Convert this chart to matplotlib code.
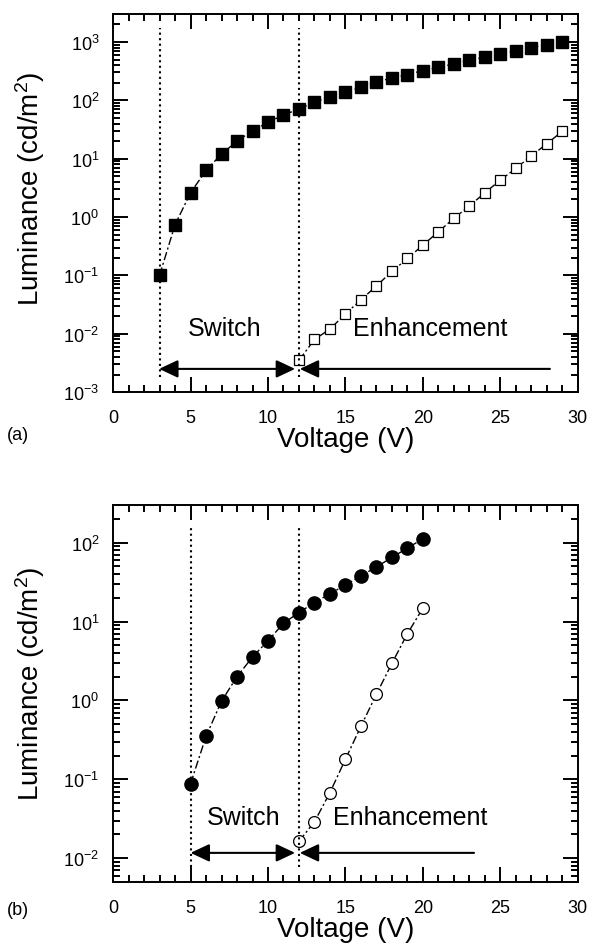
import matplotlib
matplotlib.use("Agg")
import matplotlib.pyplot as plt
from matplotlib.ticker import MultipleLocator, LogLocator, NullFormatter

plt.rcParams["font.family"] = ["Liberation Sans", "DejaVu Sans"]
plt.rcParams["mathtext.fontset"] = "custom"
plt.rcParams["mathtext.rm"] = "Liberation Sans"
plt.rcParams["mathtext.it"] = "Liberation Sans"
plt.rcParams["mathtext.default"] = "regular"

# panel (a): squares
volt_a_on = [3, 4, 5, 6, 7, 8, 9, 10, 11, 12, 13, 14, 15, 16, 17, 18, 19, 20,
             21, 22, 23, 24, 25, 26, 27, 28, 29]
lum_a_on = [0.1, 0.74, 2.6, 6.3, 12, 20, 30, 42, 56, 71, 93, 115, 141, 166,
            204, 242, 275, 324, 370, 420, 490, 545, 620, 710, 800, 900, 1000]
volt_a_off = [12, 13, 14, 15, 16, 17, 18, 19, 20, 21, 22, 23, 24, 25, 26, 27,
              28, 29]
lum_a_off = [0.0035, 0.008, 0.012, 0.022, 0.038, 0.066, 0.117, 0.195, 0.33,
             0.56, 0.95, 1.55, 2.6, 4.3, 6.8, 11.2, 18, 29.5]

# panel (b): circles
volt_b_on = [5, 6, 7, 8, 9, 10, 11, 12, 13, 14, 15, 16, 17, 18, 19, 20]
lum_b_on = [0.088, 0.35, 0.98, 2.0, 3.55, 5.7, 9.5, 13, 17.4, 22.5, 29, 38,
            49, 65, 85, 112]
volt_b_off = [12, 13, 14, 15, 16, 17, 18, 19, 20]
lum_b_off = [0.0164, 0.029, 0.068, 0.18, 0.47, 1.2, 2.95, 7.0, 14.8]

DASH = (0, (6, 2, 1.5, 2))


def style_axis(ax, ylo, yhi):
    ax.set_yscale("log")
    ax.set_xlim(0, 30)
    ax.set_ylim(ylo, yhi)
    ax.xaxis.set_major_locator(MultipleLocator(5))
    ax.xaxis.set_minor_locator(MultipleLocator(1))
    ax.yaxis.set_major_locator(LogLocator(base=10, numticks=20))
    ax.yaxis.set_minor_locator(LogLocator(base=10, subs=range(2, 10), numticks=20))
    ax.yaxis.set_minor_formatter(NullFormatter())
    ax.tick_params(which="both", direction="in", top=True, right=True, width=1.4,
                   labelsize=13)
    ax.tick_params(which="major", length=11)
    ax.tick_params(which="minor", length=5)
    ax.tick_params(axis="x", pad=12)
    ax.tick_params(axis="y", pad=10)
    for s in ax.spines.values():
        s.set_linewidth(1.4)
    ax.set_xlabel("Voltage (V)", fontsize=20, labelpad=0)
    ax.set_ylabel("Luminance (cd/m$^2$)", fontsize=20)


def arrows(ax, x0, x1, x2, y):
    ax.annotate("", xy=(x0, y), xytext=(x1, y),
                arrowprops=dict(arrowstyle="<|-|>,head_length=1.15,head_width=0.54",
                                mutation_scale=10, color="black", lw=1.5,
                                shrinkA=0, shrinkB=0))
    ax.annotate("", xy=(x1 + 0.3, y), xytext=(x2, y),
                arrowprops=dict(arrowstyle="-|>,head_length=1.15,head_width=0.54",
                                mutation_scale=10, color="black", lw=1.5,
                                shrinkA=0, shrinkB=0))


fig = plt.figure(figsize=(5.89, 9.45), dpi=100)

# (a)
ax1 = fig.add_axes([0.192, 0.584, 0.789, 0.400])
style_axis(ax1, 1e-3, 3e3)
ax1.plot(volt_a_on, lum_a_on, color="black", lw=1, linestyle=DASH, marker="s",
         markersize=8, markerfacecolor="black", markeredgecolor="black")
ax1.plot(volt_a_off, lum_a_off, color="black", lw=1, linestyle=DASH, marker="s",
         markersize=7.5, markerfacecolor="white", markeredgecolor="black",
         markeredgewidth=0.9)
ax1.plot([3, 3], [0.0018, 1740], color="black", lw=1.5, linestyle=":")
ax1.plot([12, 12], [0.0018, 1740], color="black", lw=1.5, linestyle=":")
arrows(ax1, 2.97, 11.75, 28.2, 0.0025)
ax1.text(7.2, 0.0128, "Switch", fontsize=18, ha="center", va="center")
ax1.text(20.5, 0.0128, "Enhancement", fontsize=18, ha="center", va="center")
ax1.yaxis.set_label_coords(-0.142, 0.54)
fig.text(0.012, 0.539, "(a)", fontsize=13, ha="left", va="center")

# (b)
ax2 = fig.add_axes([0.192, 0.0656, 0.789, 0.399])
style_axis(ax2, 5e-3, 3e2)
ax2.plot(volt_b_on, lum_b_on, color="black", lw=1, linestyle=DASH, marker="o",
         markersize=9.5, markerfacecolor="black", markeredgecolor="black")
ax2.plot(volt_b_off, lum_b_off, color="black", lw=1, linestyle=DASH, marker="o",
         markersize=8.5, markerfacecolor="white", markeredgecolor="black",
         markeredgewidth=0.9)
ax2.plot([5, 5], [0.0078, 162], color="black", lw=1.5, linestyle=":")
ax2.plot([12, 12], [0.0078, 162], color="black", lw=1.5, linestyle=":")
arrows(ax2, 5.0, 11.75, 23.3, 0.0117)
ax2.text(8.4, 0.033, "Switch", fontsize=18, ha="center", va="center")
ax2.text(19.2, 0.033, "Enhancement", fontsize=18, ha="center", va="center")
ax2.yaxis.set_label_coords(-0.142, 0.528)
fig.text(0.012, 0.036, "(b)", fontsize=13, ha="left", va="center")

fig.savefig("out.png", dpi=100)
